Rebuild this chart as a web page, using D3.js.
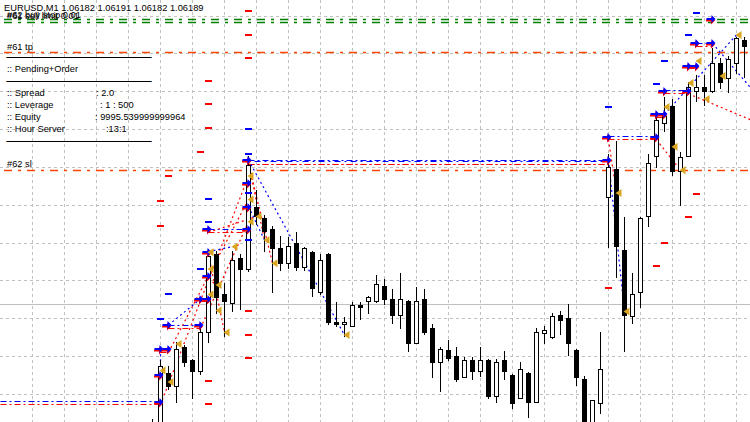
<!DOCTYPE html>
<html><head><meta charset="utf-8">
<script src="https://cdn.jsdelivr.net/npm/d3@7"></script>
<style>
body{margin:0;background:#fff;overflow:hidden}
svg{display:block}
text{font-family:"Liberation Sans",Arial,sans-serif;font-size:9.3px;fill:#000}
</style></head><body><div id="chart"></div>
<script>
// ---------- DATA ----------
const opens  = [1.05984,1.05976,1.06011,1.06004,1.06025,1.06018,1.06012,1.06033,1.06074,1.06053,1.06048,1.06072,1.06066,1.06099,1.06093,1.06087,1.06077,1.06069,1.06080,1.06067,1.06075,1.06054,1.06074,1.06038,1.06037,1.06036,1.06047,1.06049,1.06049,1.06057,1.06050,1.06042,1.06049,1.06027,1.06050,1.06035,1.06017,1.06023,1.06020,1.06009,1.06018,1.06012,1.06018,1.05999,1.06018,1.06010,1.05998,1.06011,1.05996,1.06032,1.06030,1.06042,1.06040,1.06023,1.06008,1.05981,1.05995,1.06104,1.06119,1.06076,1.06041,1.06054,1.06094,1.06126,1.06143,1.06152,1.06118,1.06126,1.06160,1.06162,1.06160,1.06175,1.06167,1.06175,1.06187];
const highs  = [1.05987,1.06018,1.06015,1.06028,1.06026,1.06019,1.06035,1.06077,1.06076,1.06059,1.06076,1.06074,1.06126,1.06108,1.06095,1.06089,1.06084,1.06083,1.06086,1.06078,1.06076,1.06074,1.06075,1.06049,1.06041,1.06049,1.06049,1.06052,1.06063,1.06061,1.06056,1.06064,1.06050,1.06057,1.06056,1.06037,1.06025,1.06029,1.06025,1.06020,1.06020,1.06025,1.06019,1.06019,1.06023,1.06011,1.06017,1.06012,1.06035,1.06036,1.06043,1.06044,1.06048,1.06024,1.06010,1.05997,1.06033,1.06127,1.06134,1.06094,1.06064,1.06094,1.06127,1.06149,1.06157,1.06156,1.06128,1.06165,1.06169,1.06169,1.06183,1.06178,1.06179,1.06189,1.06189];
const lows   = [1.05973,1.05973,1.06003,1.05996,1.06015,1.05998,1.06011,1.06028,1.06043,1.06031,1.06044,1.06045,1.06065,1.06090,1.06076,1.06054,1.06066,1.06067,1.06066,1.06066,1.06052,1.06053,1.06037,1.06036,1.06031,1.06036,1.06040,1.06043,1.06049,1.06048,1.06038,1.06035,1.06023,1.06027,1.06032,1.06009,1.06002,1.06018,1.06007,1.06009,1.06008,1.06010,1.05998,1.05996,1.06008,1.05993,1.05998,1.05988,1.05996,1.06027,1.06030,1.06032,1.06021,1.06005,1.05979,1.05979,1.05990,1.06078,1.06062,1.06023,1.06038,1.06046,1.06089,1.06120,1.06139,1.06116,1.06100,1.06126,1.06155,1.06153,1.06160,1.06162,1.06160,1.06170,1.06168];
const closes = [1.05976,1.06015,1.06004,1.06024,1.06017,1.06012,1.06033,1.06073,1.06051,1.06049,1.06071,1.06066,1.06121,1.06094,1.06086,1.06077,1.06069,1.06078,1.06067,1.06077,1.06056,1.06071,1.06038,1.06037,1.06038,1.06047,1.06046,1.06051,1.06058,1.06050,1.06042,1.06050,1.06027,1.06049,1.06033,1.06017,1.06024,1.06019,1.06008,1.06018,1.06012,1.06018,1.05999,1.06017,1.06012,1.05995,1.06013,1.05996,1.06033,1.06034,1.06041,1.06039,1.06027,1.06009,1.05981,1.05997,1.06013,1.06120,1.06078,1.06042,1.06053,1.06093,1.06122,1.06145,1.06147,1.06118,1.06125,1.06162,1.06162,1.06160,1.06175,1.06165,1.06177,1.06188,1.06184];

const gridPrices = [1.0620,1.0618,1.0616,1.0614,1.0612,1.0610,1.0608,1.0606,1.0604,1.0602,1.0600];
const gridBars = [-15,-11,-7,-3,1,5,9,13,17,21,25,29,33,37,41,45,49,53,57,61,65,69,73];
const bidLinePrice = 1.060473;

// full-width object lines
const objLines = [
  {price:1.061983, color:"#008000"},
  {price:1.061967, color:"#008000"},
  {price:1.061808, color:"#ff4500"},
  {price:1.061184, color:"#ff4500"}
];

// order level segments (buy price, sell price, from bar, to bar)
const levelBuy  = [1.059962,1.060239,1.060367,1.060505,1.060873,1.061239,1.061229,1.061362,1.061481,1.061605,1.061736,1.061856];
const levelSell = [1.059946,1.060223,1.060351,1.060489,1.060857,1.061213,1.061213,1.061346,1.061465,1.061589,1.061720,1.061840];
const levelFrom = [-19,1,2,6,7,12,12,57,63,64,67,68];
const levelTo   = [1,2,6,7,12,57,57,63,64,67,68,70];

// open arrows: bar index, price
const arrowBar   = [1,1,1,2,2,6,6,7,7,7,7,12,12,12,12,57,57,63,63,64,64,67,67,68,68,70,70];
const arrowPrice = [1.059962,1.060105,1.060239,1.060239,1.060367,1.060367,1.060505,1.060505,1.060626,1.060755,1.060873,1.060873,1.060992,1.061116,1.061239,1.061239,1.061362,1.061362,1.061481,1.061481,1.061605,1.061605,1.061736,1.061736,1.061856,1.061856,1.061983];

// short level marks
const blueMarkBar   = [12,12,12,12,7,7,6,2,1,68,67,64,63,57];
const blueMarkPrice = [1.061403,1.061269,1.061063,1.060815,1.061031,1.060910,1.060663,1.060529,1.060397,1.062014,1.061900,1.061762,1.061639,1.061518];
const redMarkBar    = [12,12,12,12,12,12,7,7,7,7,7,6,2,1,1,68,67,64,63,57];
const redMarkPrice  = [1.062025,1.061900,1.061776,1.060441,1.060314,1.060191,1.061657,1.061533,1.061407,1.060071,1.059948,1.061283,1.061155,1.061022,1.060890,1.061059,1.060936,1.060799,1.060677,1.060563];

// close markers
const closeBar   = [7,7,8,7,8,9,10,12,12,12,13,14,15,24,3,1,2,58,59,65,66,64,67,68,69,71,73];
const closePrice = [1.060751,1.060663,1.060579,1.060528,1.060444,1.060328,1.060781,1.061155,1.061031,1.060913,1.060940,1.060816,1.060693,1.060314,1.060267,1.060127,1.060066,1.061065,1.060438,1.061309,1.061185,1.061519,1.061646,1.061762,1.061561,1.061683,1.061900];

// trade paths (open bar, open price) -> (close bar, close price)
const buyPathFrom  = [[12,1.061239],[57,1.061239],[64,1.061481],[70,1.061856],[1,1.060239],[7,1.060755],[2,1.060367],[12,1.060992]];
const buyPathTo    = [[24,1.060314],[59,1.060438],[73,1.061900],[76,1.061560],[1,1.059962],[10,1.060781],[6,1.060505],[14,1.060816]];
const sellPathFrom = [[12,1.061223],[12,1.061223],[57,1.061346],[63,1.061346],[67,1.061589],[1,1.059946],[2,1.060223],[6,1.060351],[7,1.060739],[7,1.060610],[7,1.060857]];
const sellPathTo   = [[15,1.060693],[14,1.060816],[58,1.061065],[66,1.061185],[76,1.061430],[12,1.061155],[12,1.061031],[12,1.060913],[9,1.060328],[8,1.060579],[13,1.060940]];

const headerText = "EURUSD,M1  1.06182 1.06191 1.06182 1.06189";
const orderTexts = ["#62 buy stop 0.01","#61 sell limit 0.01"];
const tpLabel = "#61 tp", slLabel = "#62 sl";
const infoLabels = [":: Spread",":: Leverage",":: Equity",":: Hour Server"];
const infoValues = [": 2.0",": 1 : 500",": 9995.539999999964",":13:1"];
const panelTitle = ":: Pending+Order";
const rule = "______________________________";

// ---------- CHART ----------
const W=750,H=422;
const svg=d3.select("#chart").append("svg").attr("width",W).attr("height",H);
svg.append("rect").attr("width",W).attr("height",H).attr("fill","#fff");

const x=d3.scaleLinear().domain([0,74]).range([152.5,744.5]);
const y=d3.scaleLinear().domain([1.062,1.060]).range([16,394.5]);
const py=p=>Math.floor(y(p))+0.5;

// grid
const g=svg.append("g");
g.selectAll(".hg").data(gridPrices).join("line")
 .attr("x1",0).attr("x2",W).attr("y1",d=>py(d)).attr("y2",d=>py(d))
 .attr("stroke","#c0c0c0").attr("stroke-dasharray","3,3");
g.selectAll(".vg").data(gridBars).join("line")
 .attr("x1",d=>x(d)).attr("x2",d=>x(d)).attr("y1",0).attr("y2",H)
 .attr("stroke","#c0c0c0").attr("stroke-dasharray","3,3");
g.append("line").attr("x1",0).attr("x2",W).attr("y1",py(bidLinePrice)).attr("y2",py(bidLinePrice))
 .attr("stroke","#c0c0c0");

// object lines
svg.selectAll(".ol").data(objLines).join("line")
 .attr("x1",0).attr("x2",W).attr("y1",d=>py(d.price)).attr("y2",d=>py(d.price))
 .attr("stroke",d=>d.color).attr("stroke-width",1.3).attr("stroke-dasharray","8,6,3,6")
 .attr("stroke-dashoffset",-4);

// level segments
const lv=svg.append("g");
levelBuy.forEach((p,i)=>{
  lv.append("line").attr("x1",x(levelFrom[i])).attr("x2",x(levelTo[i]))
    .attr("y1",py(levelSell[i])).attr("y2",py(levelSell[i]))
    .attr("stroke","#ff0000").attr("stroke-dasharray","6,3,2,3");
  lv.append("line").attr("x1",x(levelFrom[i])).attr("x2",x(levelTo[i]))
    .attr("y1",py(p)).attr("y2",py(p))
    .attr("stroke","#0000ff").attr("stroke-dasharray",i===6?"2,4,6,4":"6,3,2,3");
});

// trade paths
const tp=svg.append("g").attr("fill","none");
sellPathFrom.forEach((f,i)=>{
  const t=sellPathTo[i];
  tp.append("line").attr("x1",x(f[0])).attr("y1",y(f[1])).attr("x2",x(t[0])).attr("y2",y(t[1]))
   .attr("stroke","#ff0000").attr("stroke-width",1.2).attr("stroke-dasharray","2,3");
});
buyPathFrom.forEach((f,i)=>{
  const t=buyPathTo[i];
  tp.append("line").attr("x1",x(f[0])).attr("y1",y(f[1])).attr("x2",x(t[0])).attr("y2",y(t[1]))
   .attr("stroke","#0000ff").attr("stroke-width",1.2).attr("stroke-dasharray","2,3");
});

// candles
const idx=d3.range(opens.length);
const cg=svg.append("g");
cg.selectAll(".wick").data(idx).join("line")
 .attr("x1",i=>x(i)).attr("x2",i=>x(i))
 .attr("y1",i=>Math.round(y(highs[i]))).attr("y2",i=>Math.round(y(lows[i]))+1)
 .attr("stroke","#000");
cg.selectAll(".body").data(idx).join("rect")
 .attr("x",i=>x(i)-2).attr("width",4)
 .attr("y",i=>py(Math.max(opens[i],closes[i])))
 .attr("height",i=>Math.max(0,py(Math.min(opens[i],closes[i]))-py(Math.max(opens[i],closes[i]))))
 .attr("fill",i=>closes[i]>=opens[i]?"#fff":"#000")
 .attr("stroke","#000");

// short marks
const mk=svg.append("g");
blueMarkBar.forEach((b,i)=>mk.append("rect").attr("x",x(b)-3.5).attr("y",Math.round(y(blueMarkPrice[i]))-1).attr("width",7).attr("height",2).attr("fill","#0000ff"));
redMarkBar.forEach((b,i)=>mk.append("rect").attr("x",x(b)-3.5).attr("y",Math.round(y(redMarkPrice[i]))-1).attr("width",7).attr("height",2).attr("fill","#ff0000"));

// arrows (sell under buy)
const ar=svg.append("g");
const arrowPath=(cx,cy)=>`M${cx-6},${cy-1}h5v-3l4,4l-4,4v-3h-5z`;
arrowBar.forEach((b,i)=>{
  const cx=x(b), cy=Math.round(y(arrowPrice[i]));
  ar.append("path").attr("d",arrowPath(cx-0.5,cy+1.5)).attr("fill","#ff0000");
  ar.append("path").attr("d",arrowPath(cx,cy)).attr("fill","#0000ff");
});

// close triangles
const tr=svg.append("g");
closeBar.forEach((b,i)=>{
  const cx=x(b), cy=y(closePrice[i]);
  tr.append("path").attr("d",`M${cx-1},${cy}L${cx+5},${cy-4}L${cx+5},${cy+4}Z`).attr("fill","#daa520");
});

// texts
const tx=svg.append("g");
tx.append("text").attr("x",4).attr("y",10.5).text(headerText);
orderTexts.forEach((t,i)=>tx.append("text").attr("x",7).attr("y",18+i).text(t));
tx.append("text").attr("x",7).attr("y",50).text(tpLabel);
tx.append("text").attr("x",7).attr("y",167).text(slLabel);
[56.5,80.5,140.5].forEach(v=>tx.append("text").attr("x",7).attr("y",v)
  .style("font-size","5px").attr("stroke","#000").attr("stroke-width",0.6)
  .attr("textLength",144).attr("lengthAdjust","spacingAndGlyphs").text(rule));
tx.append("text").attr("x",7).attr("y",72).text(panelTitle);
const valX=[96,100,95,106];
infoLabels.forEach((t,i)=>{
  tx.append("text").attr("x",7).attr("y",96+12*i).text(t);
  tx.append("text").attr("x",valX[i]).attr("y",96+12*i).text(infoValues[i]);
});
</script></body></html>
